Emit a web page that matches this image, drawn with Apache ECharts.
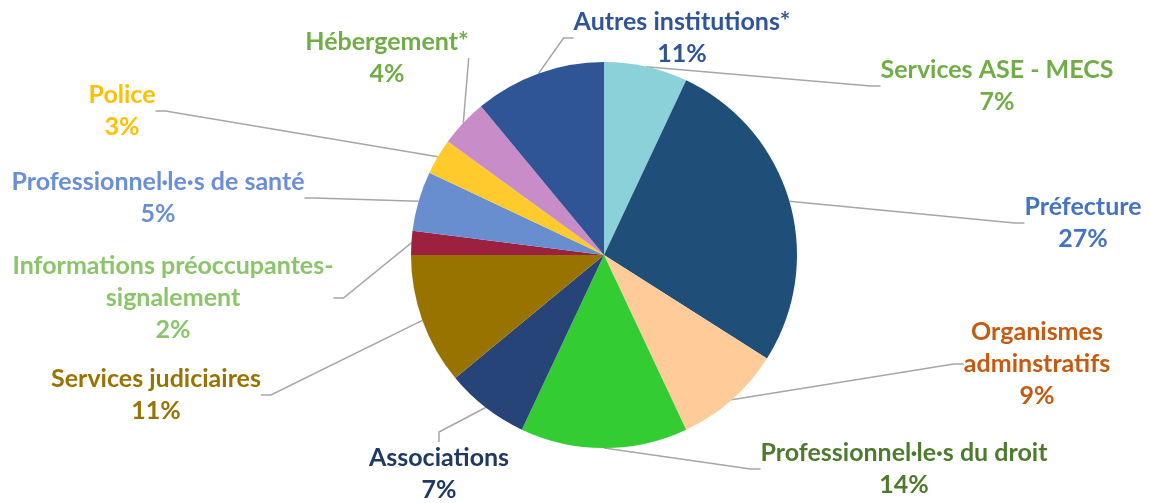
<!DOCTYPE html>
<html>
<head>
<meta charset="utf-8">
<script src="https://cdn.jsdelivr.net/npm/echarts@6/dist/echarts.min.js"></script>
<style>
  html, body { margin: 0; padding: 0; background: #fff; }
  #chart { width: 1150px; height: 503px; }
</style>
</head>
<body>
<div id="chart"></div>
<script>
// categories, clockwise from 12 o'clock
const categories = [
  'Services ASE - MECS',
  'Préfecture',
  'Organismes\nadminstratifs',
  'Professionnel·le·s du droit',
  'Associations',
  'Services judiciaires',
  'Informations préoccupantes-\nsignalement',
  'Professionnel·le·s de santé',
  'Police',
  'Hébergement*',
  'Autres institutions*'
];
const shares = [7, 27, 9, 14, 7, 11, 2, 5, 3, 4, 11];

const sliceColors = ['#8AD1D9', '#1F4E79', '#FFCC99', '#33CC33', '#264478', '#997300',
  '#9C2141', '#698ED0', '#FFCA2C', '#C88DC8', '#2F5597'];
const labelColors = ['#70AD47', '#4472C4', '#C55A11', '#4E7A2E', '#203864', '#997300',
  '#8BC56A', '#6A8FD4', '#FFC000', '#70AD47', '#2F5597'];

// label block centres (manual placement as in the original)
const labelPos = [
  [997, 86], [1083, 223], [1037, 364], [904, 469], [439, 474], [156, 395],
  [173, 298], [158, 198], [122, 111], [387, 58], [682, 38]
];

let chartObj = echarts.init(document.getElementById('chart'));

let pieData = categories.map((name, i) => {
  return {
    name: name,
    value: shares[i],
    itemStyle: { color: sliceColors[i] },
    label: { color: labelColors[i] }
  };
});

let option = {
  animation: false,
  series: [{
    type: 'pie',
    center: [604, 255],
    radius: [0, 193],
    startAngle: 90,
    clockwise: true,
    data: pieData,
    itemStyle: { borderWidth: 0 },
    label: {
      show: true,
      formatter: p => p.name + '\n' + p.value + '%',
      fontFamily: 'Lato',
      fontWeight: 'bold',
      fontSize: 25,
      lineHeight: 32,
      align: 'center'
    },
    labelLine: {
      show: true,
      length: 10,
      length2: 10,
      lineStyle: { color: '#A6A6A6', width: 1.5 }
    },
    labelLayout: function (params) {
      let pos = labelPos[params.dataIndex];
      return {
        x: pos[0],
        y: pos[1],
        align: 'center',
        verticalAlign: 'middle'
      };
    }
  }]
};
chartObj.setOption(option);
</script>
</body>
</html>
